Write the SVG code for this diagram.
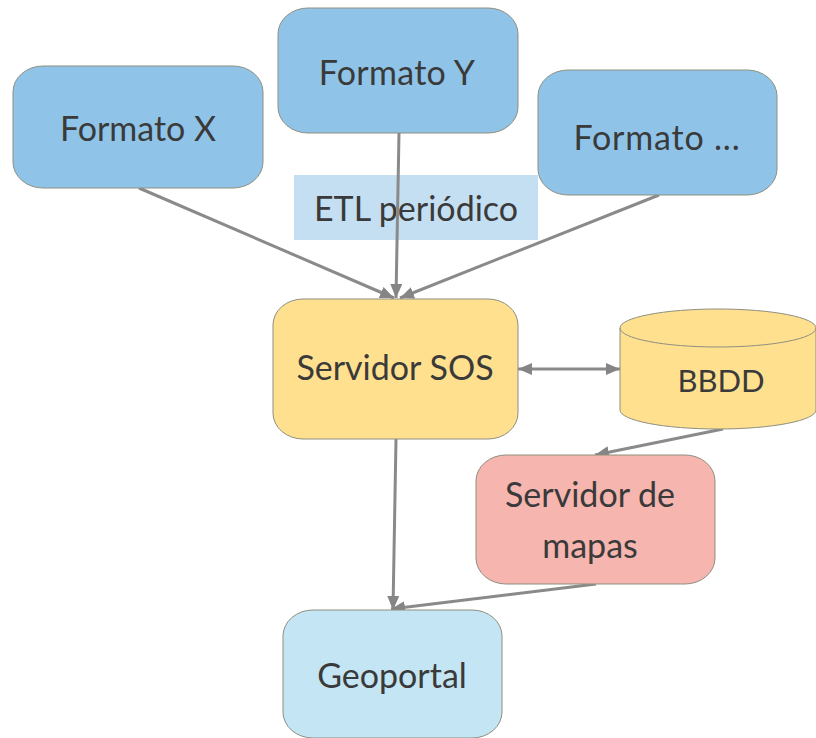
<svg xmlns="http://www.w3.org/2000/svg" width="816" height="738" viewBox="0 0 816 738">
<defs><marker id="a" viewBox="0 0 14 12" refX="14" refY="6" markerWidth="14" markerHeight="12" markerUnits="userSpaceOnUse" orient="auto-start-reverse"><path d="M0 0L14 6L0 12Z" fill="#858585"/></marker></defs>
<style>
.n{stroke:#8f8f80;stroke-width:1}
.t{font-family:"Lato","Noto Sans",sans-serif;font-size:34px;fill:#3a3a3a;text-anchor:middle}
.c{fill:none;stroke:#8a8a8a;stroke-width:3;marker-end:url(#a)}
</style>
<rect width="816" height="738" fill="#fff"/>
<g id="etl"><rect x="294" y="175" width="244" height="65" fill="#c5dff2"/><text class="t" x="416" y="221">ETL periódico</text></g>
<g id="connectors">
<path class="c" d="M139 188L394 298"/>
<path class="c" d="M399 133L396 298"/>
<path class="c" d="M659 195L400 298"/>
<path class="c" d="M723 429L595 455"/>
<path class="c" d="M396 439L393 610"/>
<path class="c" d="M596 584L391 609"/>
<path class="c" style="marker-start:url(#a)" d="M518 369L620 369"/>
</g>
<g id="formato-x"><rect class="n" x="13" y="66" width="250" height="122" rx="30" ry="26" fill="#8fc4e8"/><text class="t" x="138" y="141">Formato X</text></g>
<g id="formato-y"><rect class="n" x="278" y="8" width="240" height="125" rx="30" ry="26" fill="#8fc4e8"/><text class="t" x="397" y="85" style="letter-spacing:.3px">Formato Y</text></g>
<g id="formato-etc"><rect class="n" x="538" y="70" width="239" height="125" rx="30" ry="26" fill="#8fc4e8"/><text class="t" x="657" y="150" style="letter-spacing:.8px">Formato ...</text></g>
<g id="servidor-sos"><rect class="n" x="273" y="299" width="245" height="140" rx="30" ry="26" fill="#ffe08f"/><text class="t" x="395" y="380">Servidor SOS</text></g>
<g id="bbdd"><path class="n" d="M620 328A98 19 0 0 1 816 328V410A98 19 0 0 1 620 410Z" fill="#ffe08f"/><path class="n" d="M620 328A98 19 0 0 0 816 328" fill="none"/><text class="t" x="721" y="392" style="font-size:31px">BBDD</text></g>
<g id="servidor-mapas"><rect class="n" x="476" y="455" width="239" height="129" rx="30" ry="26" fill="#f6b5ae"/><text class="t" x="590" y="507">Servidor de</text><text class="t" x="590" y="558">mapas</text></g>
<g id="geoportal"><rect class="n" x="283" y="610" width="219" height="128" rx="30" ry="26" fill="#c3e5f4"/><text class="t" x="392" y="688">Geoportal</text></g>
</svg>
